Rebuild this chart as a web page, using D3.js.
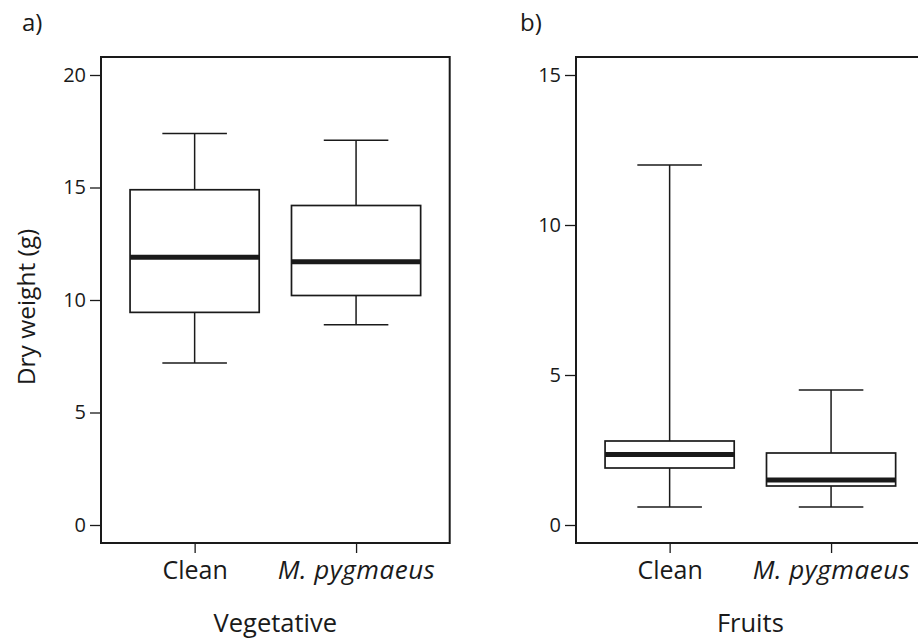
<!DOCTYPE html>
<html>
<head>
<meta charset="utf-8">
<script src="https://cdn.jsdelivr.net/npm/d3@7"></script>
<style>
  body { margin: 0; background: #fff; }
  text { font-family: "Open Sans", sans-serif; fill: #1a1a1a; }
</style>
</head>
<body>
<div id="vis"></div>
<script>
// data
const groups = ["Clean", "M. pygmaeus"];

const vegLow  = [7.2, 8.9];
const vegQ1   = [9.45, 10.2];
const vegMed  = [11.9, 11.7];
const vegQ3   = [14.9, 14.2];
const vegHigh = [17.4, 17.1];
const vegTicks = [0, 5, 10, 15, 20];

const fruitLow  = [0.6, 0.6];
const fruitQ1   = [1.9, 1.3];
const fruitMed  = [2.35, 1.5];
const fruitQ3   = [2.8, 2.4];
const fruitHigh = [12.0, 4.5];
const fruitTicks = [0, 5, 10, 15];

// frame
const FRAME_WIDTH = 918;
const FRAME_HEIGHT = 638;
const TOP = 57, BOTTOM = 543;

const svg = d3.select("#vis")
  .append("svg")
    .attr("width", FRAME_WIDTH)
    .attr("height", FRAME_HEIGHT);

function build_panel(opt) {
  const x = d3.scaleLinear()
    .domain([0.42, 2.58])
    .range([opt.left, opt.left + 348.7]);
  const y = d3.scaleLinear()
    .domain([-opt.ymax * 0.04, opt.ymax * 1.04])
    .range([BOTTOM, TOP]);

  const g = svg.append("g");

  // y axis
  const ya = g.append("g")
    .attr("transform", "translate(" + opt.left + ",0)")
    .call(d3.axisLeft(y).tickValues(opt.ticks).tickSize(11).tickPadding(4));
  ya.select(".domain").remove();
  ya.selectAll("line").attr("stroke", "#1a1a1a").attr("stroke-width", 1.3);
  ya.selectAll("text").style("font-size", "20px").attr("fill", "#1a1a1a");

  // x axis
  const xa = g.append("g")
    .attr("transform", "translate(0," + BOTTOM + ")")
    .call(d3.axisBottom(x).tickValues([1, 2]).tickSize(10).tickPadding(8)
      .tickFormat((d, i) => groups[i]));
  xa.select(".domain").remove();
  xa.selectAll("line").attr("stroke", "#1a1a1a").attr("stroke-width", 1.3);
  xa.selectAll("text")
    .attr("fill", "#1a1a1a")
    .style("font-size", (d, i) => i === 1 ? "26px" : "25px")
    .style("letter-spacing", (d, i) => i === 1 ? "0.5px" : "0px")
    .attr("dy", (d, i) => i === 1 ? "0.68em" : "0.71em")
    .style("font-style", (d, i) => i === 1 ? "italic" : "normal");

  // frame
  g.append("rect")
    .attr("x", opt.left)
    .attr("y", TOP)
    .attr("width", x.range()[1] - opt.left)
    .attr("height", BOTTOM - TOP)
    .attr("fill", "none")
    .attr("stroke", "#1a1a1a")
    .attr("stroke-width", 2);

  const rows = groups.map((name, i) => ({
    pos: i + 1, low: opt.low[i], q1: opt.q1[i], med: opt.med[i], q3: opt.q3[i], high: opt.high[i]
  }));

  const box = g.selectAll(".box").data(rows).enter().append("g")
    .attr("stroke", "#1a1a1a")
    .attr("fill", "none");

  // whiskers
  box.append("line")
    .attr("x1", d => x(d.pos)).attr("x2", d => x(d.pos))
    .attr("y1", d => y(d.high)).attr("y2", d => y(d.q3))
    .attr("stroke-width", 1.5);
  box.append("line")
    .attr("x1", d => x(d.pos)).attr("x2", d => x(d.pos))
    .attr("y1", d => y(d.q1)).attr("y2", d => y(d.low))
    .attr("stroke-width", 1.5);
  // caps
  box.append("line")
    .attr("x1", d => x(d.pos - 0.2)).attr("x2", d => x(d.pos + 0.2))
    .attr("y1", d => y(d.high)).attr("y2", d => y(d.high))
    .attr("stroke-width", 1.5);
  box.append("line")
    .attr("x1", d => x(d.pos - 0.2)).attr("x2", d => x(d.pos + 0.2))
    .attr("y1", d => y(d.low)).attr("y2", d => y(d.low))
    .attr("stroke-width", 1.5);
  // box
  box.append("rect")
    .attr("x", d => x(d.pos - 0.4))
    .attr("width", d => x(d.pos + 0.4) - x(d.pos - 0.4))
    .attr("y", d => y(d.q3))
    .attr("height", d => y(d.q1) - y(d.q3))
    .attr("fill", "#fff")
    .attr("stroke-width", 1.7);
  // median
  box.append("line")
    .attr("x1", d => x(d.pos - 0.4)).attr("x2", d => x(d.pos + 0.4))
    .attr("y1", d => y(d.med)).attr("y2", d => y(d.med))
    .attr("stroke-width", 5);

  // x title
  g.append("text")
    .attr("x", (opt.left + x.range()[1]) / 2)
    .attr("y", 632)
    .attr("text-anchor", "middle")
    .style("font-size", "25.5px")
    .text(opt.title);

  // panel letter
  g.append("text")
    .attr("x", opt.letterX)
    .attr("y", 31)
    .style("font-size", "24px")
    .text(opt.letter);
}

build_panel({left: 101, ymax: 20, ticks: vegTicks, low: vegLow, q1: vegQ1, med: vegMed,
  q3: vegQ3, high: vegHigh, title: "Vegetative", letter: "a)", letterX: 22});
build_panel({left: 576, ymax: 15, ticks: fruitTicks, low: fruitLow, q1: fruitQ1, med: fruitMed,
  q3: fruitQ3, high: fruitHigh, title: "Fruits", letter: "b)", letterX: 520});

// y title
svg.append("text")
  .attr("transform", "translate(35,307) rotate(-90)")
  .attr("text-anchor", "middle")
  .style("font-size", "24.5px")
  .text("Dry weight (g)");
</script>
</body>
</html>
